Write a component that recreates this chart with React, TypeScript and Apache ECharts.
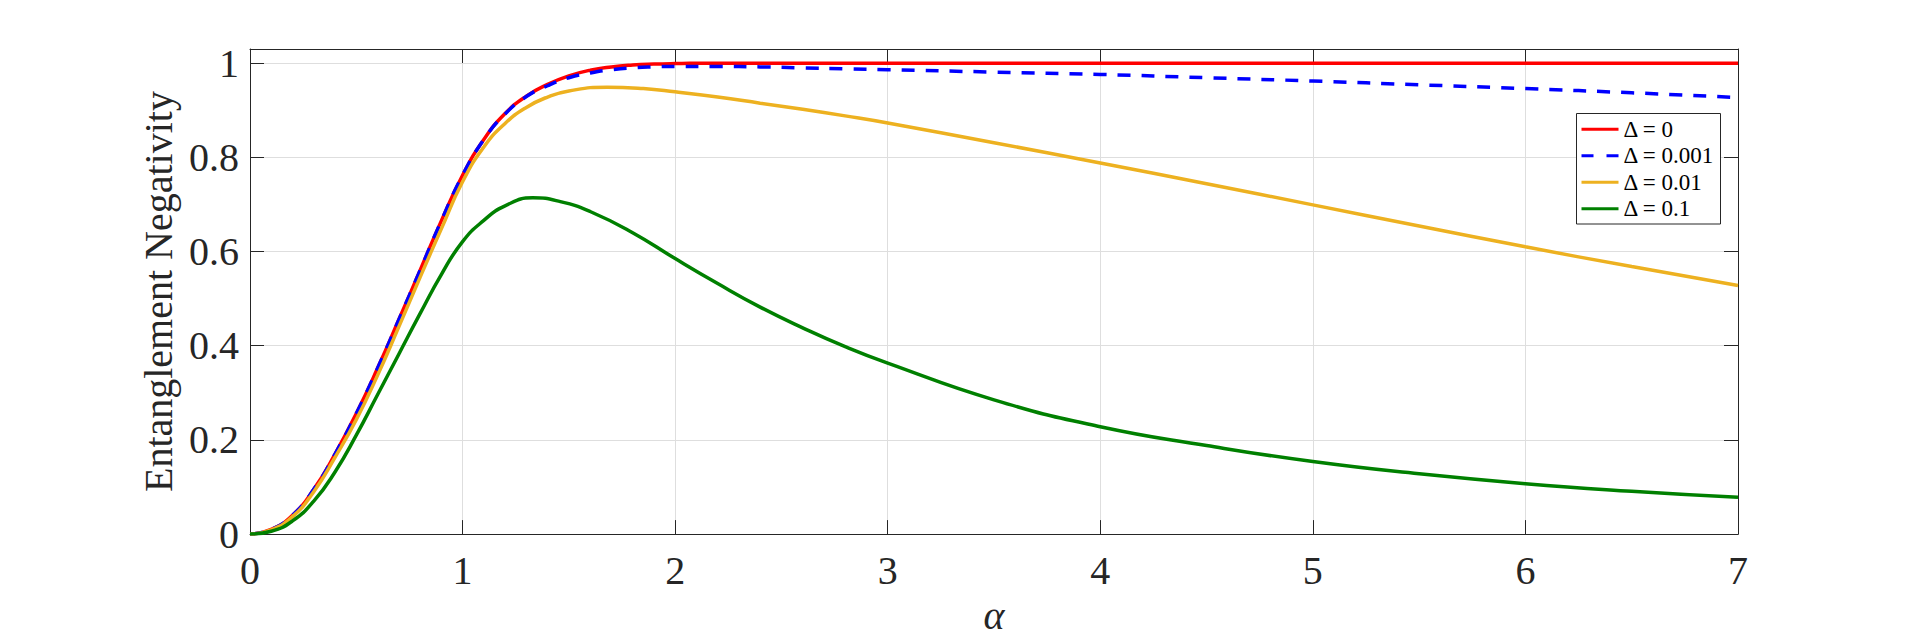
import React, { useEffect, useRef } from "react";
import * as echarts from "echarts";

const alphaValues = [0, 0.1, 0.2, 0.3, 0.4, 0.5, 0.6, 0.7, 0.8, 0.9, 1.0, 1.1, 1.2, 1.3, 1.4, 1.5, 1.6, 1.7, 1.8, 1.9, 2.0, 2.2, 2.4, 2.6, 2.8, 3.0, 3.5, 4.0, 4.5, 5.0, 5.5, 6.0, 6.5, 7.0];
const alphaOrange = [0, 0.1, 0.2, 0.3, 0.4, 0.5, 0.6, 0.7, 0.8, 0.9, 1.0, 1.1, 1.2, 1.3, 1.4, 1.5, 1.68, 1.85, 2.0, 2.2, 2.4, 2.6, 2.8, 3.0, 3.5, 4.0, 4.5, 5.0, 5.5, 6.0, 6.5, 7.0];
const alphaGreen = [0, 0.1, 0.2, 0.3, 0.4, 0.5, 0.6, 0.7, 0.8, 0.9, 1.0, 1.1, 1.2, 1.33, 1.46, 1.6, 1.8, 2.0, 2.2, 2.4, 2.6, 2.8, 3.0, 3.5, 4.0, 4.5, 5.0, 5.5, 6.0, 6.5, 7.0];

const delta0 = [0, 0.01, 0.04, 0.095, 0.17, 0.256, 0.352, 0.455, 0.56, 0.665, 0.762, 0.838, 0.893, 0.93, 0.955, 0.973, 0.985, 0.992, 0.996, 0.998, 0.999, 1, 1, 1, 1, 1, 1, 1, 1, 1, 1, 1, 1, 1];
const delta0001 = [0, 0.01, 0.04, 0.095, 0.17, 0.256, 0.352, 0.455, 0.56, 0.665, 0.762, 0.838, 0.892, 0.929, 0.952, 0.969, 0.979, 0.986, 0.99, 0.992, 0.993, 0.993, 0.992, 0.99, 0.988, 0.986, 0.981, 0.976, 0.969, 0.962, 0.954, 0.946, 0.937, 0.927];
const delta001 = [0, 0.009, 0.037, 0.09, 0.163, 0.243, 0.337, 0.44, 0.545, 0.648, 0.748, 0.822, 0.872, 0.906, 0.928, 0.941, 0.949, 0.946, 0.939, 0.928, 0.915, 0.902, 0.888, 0.873, 0.831, 0.788, 0.744, 0.699, 0.654, 0.61, 0.568, 0.528];
const delta01 = [0, 0.006, 0.028, 0.07, 0.132, 0.21, 0.296, 0.382, 0.468, 0.551, 0.621, 0.666, 0.697, 0.714, 0.706, 0.685, 0.64, 0.585, 0.532, 0.482, 0.438, 0.398, 0.363, 0.285, 0.228, 0.188, 0.154, 0.128, 0.107, 0.091, 0.078];

const seriesNames = ["Δ = 0", "Δ = 0.001", "Δ = 0.01", "Δ = 0.1"];
const seriesAlphas = [alphaValues, alphaValues, alphaOrange, alphaGreen];
const seriesValues = [delta0, delta0001, delta001, delta01];
const seriesColors = ["#FF0000", "#0000FF", "#EDB120", "#008000"];

const xTicks = [0, 1, 2, 3, 4, 5, 6, 7];
const yTicks = [0, 0.2, 0.4, 0.6, 0.8, 1];

const FONT = "'Liberation Serif', 'Times New Roman', serif";
const AX = "#262626";
const SOLID_ICON = "rect";
const DASH_ICON = "path://M0,0h12v3h-12z M25,0h12v3h-12z";

export default function App() {
  const ref = useRef<HTMLDivElement>(null);
  useEffect(() => {
    document.body.style.margin = "0";
    if (!ref.current) return;
    const chart = echarts.init(ref.current, null, { renderer: "svg" });
    const axisCommon = {
      axisLine: { show: true, onZero: false, lineStyle: { color: AX, width: 1 } },
      axisTick: { show: true, inside: true, length: 14, lineStyle: { color: AX, width: 1 } },
    };
    const option: any = {
      animation: false,
      backgroundColor: "#fff",
      grid: { left: 250, right: 182, top: 49, bottom: 71, containLabel: false },
      legend: {
        orient: "vertical",
        left: 1576.5,
        top: 113.5,
        itemWidth: 37,
        itemHeight: 3,
        itemGap: 0,
        padding: [2.5, 6, 2, 5],
        borderColor: AX,
        borderWidth: 1,
        borderRadius: 0,
        backgroundColor: "#fff",
        textStyle: { fontFamily: FONT, fontSize: 23, color: "#000", lineHeight: 26.5 },
        data: seriesNames.map((name, i) => ({ name, icon: i === 1 ? DASH_ICON : SOLID_ICON })),
      },
      xAxis: [
        {
          type: "value",
          min: xTicks[0],
          max: xTicks[xTicks.length - 1],
          interval: 1,
          position: "bottom",
          name: "α",
          nameLocation: "middle",
          nameGap: 24,
          nameTextStyle: { fontFamily: FONT, fontSize: 40, fontStyle: "italic", color: AX },
          ...axisCommon,
          axisLabel: { fontFamily: FONT, fontSize: 40, color: AX, margin: 16 },
          splitLine: { show: true, lineStyle: { color: "#DEDEDE", width: 1 } },
        },
        {
          type: "value",
          min: xTicks[0],
          max: xTicks[xTicks.length - 1],
          interval: 1,
          position: "top",
          ...axisCommon,
          axisLabel: { show: false },
          splitLine: { show: false },
        },
      ],
      yAxis: [
        {
          type: "value",
          min: yTicks[0],
          max: 1.03,
          interval: 0.2,
          position: "left",
          name: "Entanglement Negativity",
          nameLocation: "middle",
          nameGap: 68,
          nameTextStyle: { fontFamily: FONT, fontSize: 40, color: AX },
          ...axisCommon,
          axisLabel: {
            fontFamily: FONT,
            fontSize: 40,
            color: AX,
            margin: 11,
            padding: [5, 0, 0, 0],
            showMaxLabel: false,
            formatter: (v: number) => {
              const t = yTicks.find((k) => Math.abs(k - v) < 1e-6);
              return t === undefined ? "" : String(t);
            },
          },
          splitLine: { show: true, lineStyle: { color: "#DEDEDE", width: 1 } },
        },
        {
          type: "value",
          min: yTicks[0],
          max: 1.03,
          interval: 0.2,
          position: "right",
          ...axisCommon,
          axisLabel: { show: false },
          splitLine: { show: false },
        },
      ],
      series: seriesNames.map((name, i) => ({
        name,
        type: "line",
        xAxisIndex: 0,
        yAxisIndex: 0,
        symbol: "none",
        showSymbol: false,
        smooth: 0.5,
        clip: true,
        color: seriesColors[i],
        itemStyle: { color: seriesColors[i] },
        lineStyle: {
          color: seriesColors[i],
          width: 3.5,
          type: i === 1 ? [13, 11] : "solid",
        },
        data: seriesAlphas[i].map((a, j) => [a, seriesValues[i][j]]),
      })),
    };
    chart.setOption(option);
    return () => chart.dispose();
  }, []);
  return <div ref={ref} style={{ width: 1920, height: 640 }} />;
}
